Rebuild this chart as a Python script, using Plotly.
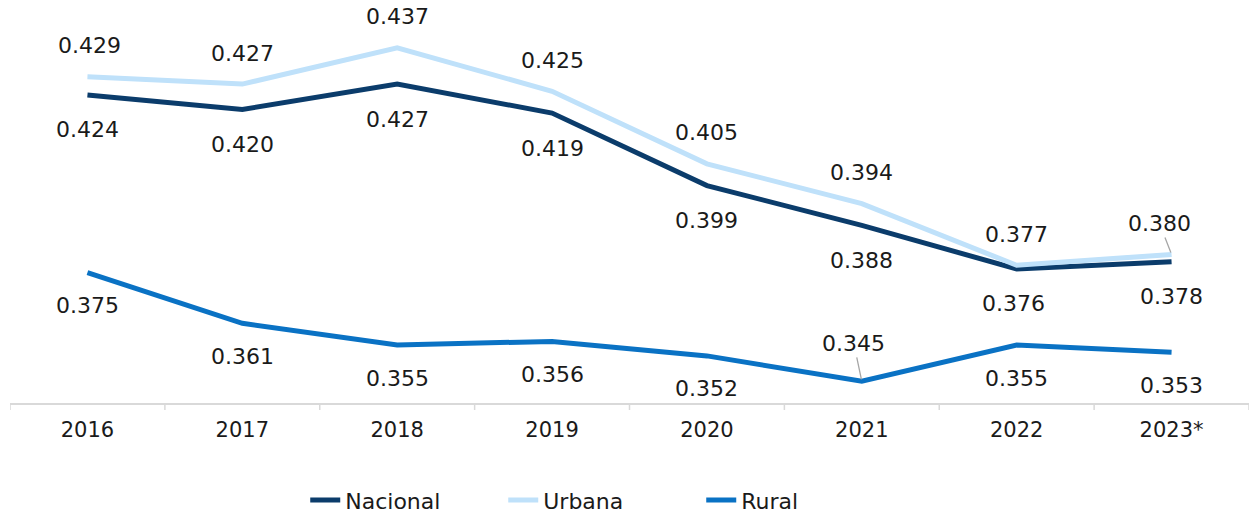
import plotly.graph_objects as go

years = ["2016", "2017", "2018", "2019", "2020", "2021", "2022", "2023*"]
nacional = [0.424, 0.420, 0.427, 0.419, 0.399, 0.388, 0.376, 0.378]
urbana = [0.429, 0.427, 0.437, 0.425, 0.405, 0.394, 0.377, 0.380]
rural = [0.375, 0.361, 0.355, 0.356, 0.352, 0.345, 0.355, 0.353]

C_NAC = "#0B3C6B"
C_URB = "#BFE1FA"
C_RUR = "#0A72C4"
FONT = "DejaVu Sans"
TXT = "#1a1a1a"

fig = go.Figure()
for name, vals, col in [("Nacional", nacional, C_NAC), ("Urbana", urbana, C_URB), ("Rural", rural, C_RUR)]:
    fig.add_trace(go.Scatter(x=list(range(len(years))), y=vals, name=name, mode="lines",
                             line=dict(color=col, width=5), hoverinfo="skip"))

ann = []
def lab(i, y, dy, dx=0):
    ann.append(dict(x=i, y=y, xref="x", yref="y", text=f"{y:.3f}", showarrow=False,
                    yshift=dy, xshift=dx, font=dict(family=FONT, size=22, color=TXT)))

def lead(i, y, ax, ay):
    ann.append(dict(x=i, y=y, xref="x", yref="y", text=f"{y:.3f}", showarrow=True,
                    arrowhead=0, arrowwidth=1.3, arrowcolor="#a6a6a6", ax=ax, ay=ay,
                    standoff=2, font=dict(family=FONT, size=22, color=TXT)))

for i, v in enumerate(urbana):
    if i == 7:
        lead(i, v, -12, -31)
    else:
        lab(i, v, 31, 2 if i == 0 else 0)
for i, v in enumerate(nacional):
    lab(i, v, -35, -3 if i == 6 else 0)
for i, v in enumerate(rural):
    if i == 5:
        lead(i, v, -8, -38)
    else:
        lab(i, v, -33)

fig.update_layout(
    width=1252, height=517,
    margin=dict(l=10, r=3, t=0, b=114, autoexpand=False),
    plot_bgcolor="white", paper_bgcolor="white",
    font=dict(family=FONT, size=21, color=TXT),
    annotations=ann,
    showlegend=True,
    legend=dict(orientation="h", x=0.478, xanchor="center", y=-0.241, yanchor="middle",
                font=dict(family=FONT, size=22, color=TXT), entrywidth=153,
                tracegroupgap=0),
)
fig.update_xaxes(tickmode="array", tickvals=list(range(len(years))), ticktext=years,
                 range=[-0.5, 7.5], showline=True, linecolor="#d9d9d9",
                 linewidth=1.5, ticks="", showgrid=False, zeroline=False, automargin=False,
                 ticklabelstandoff=7,
                 tickfont=dict(family=FONT, size=21, color=TXT))
# boundary tick marks
for b in range(9):
    fig.add_shape(type="line", xref="x", yref="paper", x0=b - 0.5, x1=b - 0.5,
                  y0=0, y1=-7 / 403, line=dict(color="#d9d9d9", width=1.5))
fig.update_yaxes(range=[0.339, 0.4502], visible=False, showgrid=False, zeroline=False,
                 automargin=False)

fig.write_html("out.html", config={"displayModeBar": False},
               post_script="document.body.style.margin='0';document.body.style.overflow='hidden';")
